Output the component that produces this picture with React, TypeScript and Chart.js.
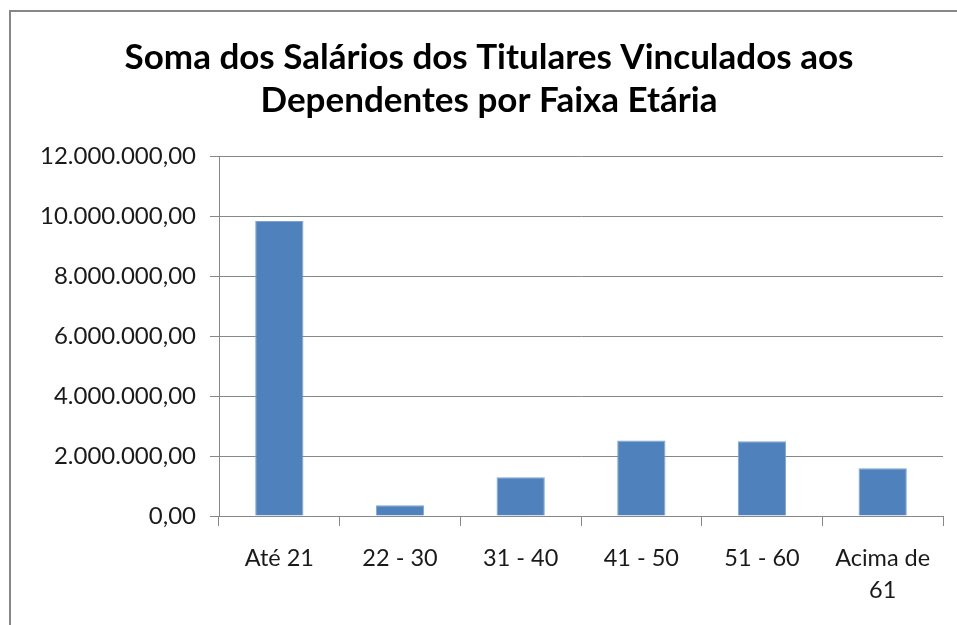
import React, { useEffect, useRef } from "react";
import { Chart, registerables } from "chart.js";

Chart.register(...registerables);

const titleLines = ["Soma dos Salários dos Titulares Vinculados aos", "Dependentes por Faixa Etária"];
const categories: (string | string[])[] = ["Até 21", "22 - 30", "31 - 40", "41 - 50", "51 - 60", ["Acima de", "61"]];
const salarySums = [9830000, 357000, 1290000, 2520000, 2490000, 1590000];
const yMin = 0;
const yMax = 12000000;
const yStep = 2000000;

function formatBR(v: number): string {
  const s = Math.round(v).toString().replace(/\B(?=(\d{3})+(?!\d))/g, ".");
  return s + ",00";
}

const titlePlugin = {
  id: "excelTitle",
  afterDraw(chart: any) {
    const ctx = chart.ctx as CanvasRenderingContext2D;
    ctx.save();
    ctx.font = "bold 35px Lato";
    ctx.fillStyle = "#000000";
    ctx.textAlign = "center";
    ctx.textBaseline = "alphabetic";
    const baselines = [69, 112];
    titleLines.forEach((line, i) => ctx.fillText(line, 489, baselines[i]));
    ctx.restore();
  },
};

export default function App() {
  const ref = useRef<HTMLCanvasElement | null>(null);
  useEffect(() => {
    if (!ref.current) return;
    const chart = new Chart(ref.current, {
      type: "bar",
      data: {
        labels: categories,
        datasets: [
          {
            data: salarySums,
            backgroundColor: "#4F81BD",
            borderColor: "#7FA4D3",
            borderWidth: 1,
            barPercentage: 0.4,
            categoryPercentage: 1,
          },
        ],
      },
      options: {
        responsive: false,
        animation: false,
        devicePixelRatio: 1,
        layout: { padding: { top: 156, right: 14, bottom: 0, left: 0 } },
        plugins: {
          legend: { display: false },
          tooltip: { enabled: false },
          title: { display: false },
        },
        scales: {
          x: {
            offset: true,
            grid: {
              offset: true,
              drawOnChartArea: false,
              drawTicks: true,
              tickLength: 10,
              color: "#888888",
              lineWidth: 1,
            },
            border: { display: true, color: "#888888", width: 1 },
            ticks: {
              color: "#1a1a1a",
              font: { family: "Lato", size: 23.5, lineHeight: "32px" as any },
              padding: 16,
              maxRotation: 0,
              autoSkip: false,
            },
            afterFit(scale: any) {
              scale.height = 109;
              scale.paddingLeft = 0;
              scale.paddingRight = 0;
            },
          },
          y: {
            min: yMin,
            max: yMax,
            grid: {
              drawTicks: true,
              tickLength: 9,
              color: "#888888",
              lineWidth: 1,
            },
            border: { display: true, color: "#888888", width: 1 },
            ticks: {
              stepSize: yStep,
              color: "#1a1a1a",
              font: { family: "Lato", size: 24 },
              padding: 14,
              callback: (v: any) => formatBR(Number(v)),
            },
            afterFit(scale: any) {
              scale.width = 219;
            },
          },
        },
      },
      plugins: [titlePlugin],
    });
    return () => chart.destroy();
  }, []);

  return (
    <div style={{ position: "fixed", left: 0, top: 0, width: 957, height: 625, background: "#ffffff", overflow: "hidden" }}>
      <div
        style={{
          position: "absolute",
          left: 9,
          top: 10,
          width: 1000,
          height: 700,
          border: "2px solid #878787",
          boxSizing: "border-box",
        }}
      />
      <canvas ref={ref} width={957} height={625} style={{ position: "absolute", left: 0, top: 0, display: "block" }} />
    </div>
  );
}
